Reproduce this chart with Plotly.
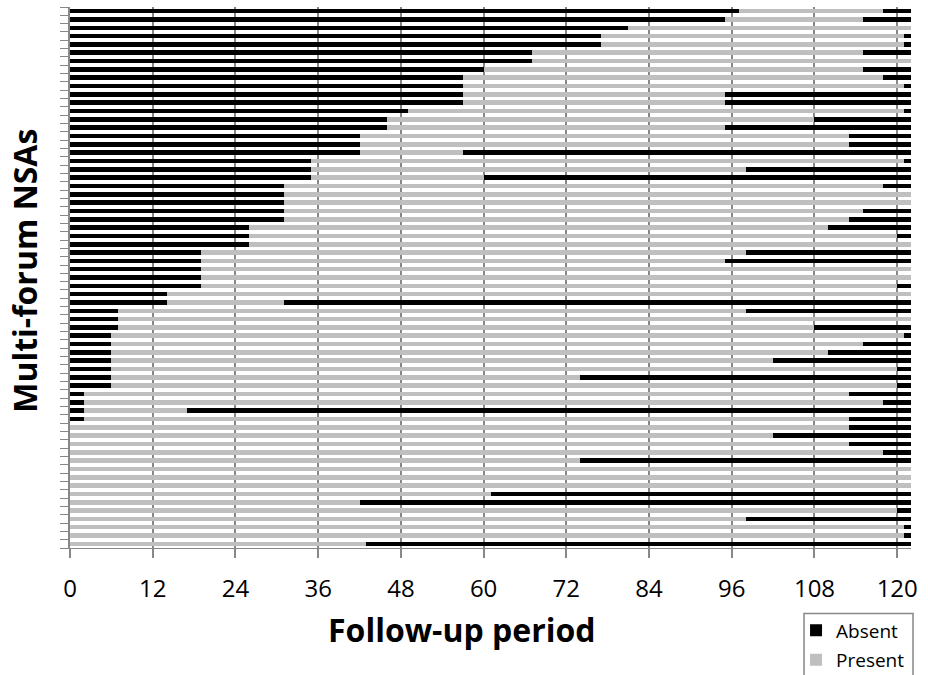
import plotly.graph_objects as go

# Each row (top to bottom) is one multi-forum NSA.
# absent_end: month when the NSA first becomes present (end of the initial absent spell)
# absent_again: month when the NSA becomes absent again (122 = present until the end)
follow_up_end = 122
absent_end = [97, 95, 81, 77, 77, 67, 67, 60, 57, 57, 57, 57, 49, 46, 46, 42, 42, 42,
              35, 35, 35, 31, 31, 31, 31, 31, 26, 26, 26, 19, 19, 19, 19, 19, 14, 14,
              7, 7, 7, 6, 6, 6, 6, 6, 6, 6, 2, 2, 2, 2,
              0, 0, 0, 0, 0, 0, 0, 0, 0, 0, 0, 0, 0, 0, 0]
absent_again = [118, 115, 122, 121, 121, 115, 122, 115, 118, 121, 95, 95, 121, 108, 95, 113, 113, 57,
                121, 98, 60, 118, 122, 122, 115, 113, 110, 120, 122, 98, 95, 122, 122, 120, 122, 31,
                98, 122, 108, 121, 115, 110, 102, 120, 74, 120, 113, 118, 17, 113,
                113, 102, 113, 118, 74, 122, 122, 122, 61, 42, 120, 98, 121, 121, 43]
x_ticks = [0, 12, 24, 36, 48, 60, 72, 84, 96, 108, 120]

rows = list(range(len(absent_end)))
present_len = [b - a for a, b in zip(absent_end, absent_again)]
absent2_len = [follow_up_end - b for b in absent_again]

BLACK = "#000000"
GREY = "#bfbfbf"
AXIS = "#878787"
FONT = "Open Sans"

fig = go.Figure()
fig.add_trace(go.Bar(y=rows, x=absent_end, orientation="h", name="Absent",
                     marker=dict(color=BLACK, line=dict(width=0)), legendgroup="a"))
fig.add_trace(go.Bar(y=rows, x=present_len, orientation="h", name="Present",
                     marker=dict(color=GREY, line=dict(width=0)), legendgroup="p"))
fig.add_trace(go.Bar(y=rows, x=absent2_len, orientation="h", name="Absent",
                     marker=dict(color=BLACK, line=dict(width=0)), legendgroup="a",
                     showlegend=False))

fig.update_layout(
    width=928, height=675,
    margin=dict(l=70, r=17, t=7, b=127, autoexpand=False),
    barmode="stack", bargap=0.45,
    plot_bgcolor="white", paper_bgcolor="white",
    font=dict(family=FONT, color="black"),
    showlegend=True,
    legend=dict(x=0.8633, y=-0.117, xanchor="left", yanchor="top",
                borderwidth=0, bgcolor="rgba(0,0,0,0)",
                font=dict(family=FONT, size=19, color="black"),
                traceorder="grouped", tracegroupgap=2),
    xaxis=dict(range=[0, follow_up_end], tickvals=x_ticks, showgrid=True,
               gridcolor=AXIS, gridwidth=1.5, zeroline=False,
               showline=True, linecolor=AXIS, linewidth=1,
               ticks="outside", ticklen=9, tickcolor=AXIS, tickwidth=1.5,
               tickfont=dict(family=FONT, size=24, color="black"),
               ticklabelstandoff=10),
    yaxis=dict(range=[len(rows) - 0.5, -0.5],
               tickmode="linear", tick0=-0.5, dtick=1,
               showticklabels=False, showgrid=False, zeroline=False,
               showline=True, linecolor=AXIS, linewidth=1.5,
               ticks="outside", ticklen=8, tickcolor=AXIS, tickwidth=1.2),
)

# legend frame (runs off the bottom edge as in the original)
fig.add_shape(type="rect", xref="paper", yref="paper",
              x0=0.8728, x1=1.0024, y0=-0.121, y1=-0.26,
              line=dict(color=AXIS, width=1.5), fillcolor="rgba(0,0,0,0)")

fig.add_annotation(text="<b>Follow-up period</b>", xref="paper", yref="paper",
                   x=0.466, y=-0.1505, xanchor="center", yanchor="middle",
                   showarrow=False, font=dict(family=FONT, size=32, color="black"))
fig.add_annotation(text="<b>Multi-forum NSAs</b>", xref="paper", yref="paper",
                   x=-0.055, y=0.512, xanchor="center", yanchor="middle", textangle=-90,
                   showarrow=False, font=dict(family=FONT, size=32, color="black"))

fig.write_html("out.html", config={"displayModeBar": False},
               post_script="document.body.style.margin='0px';")
